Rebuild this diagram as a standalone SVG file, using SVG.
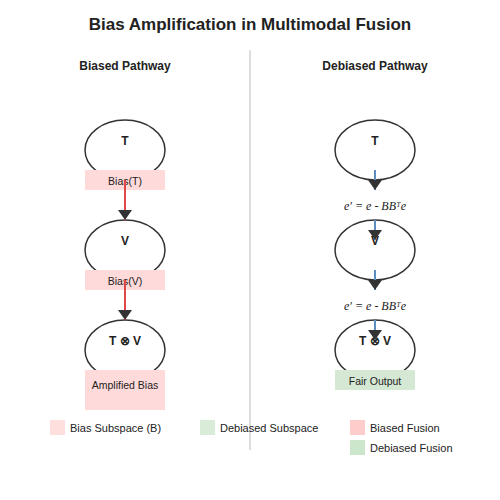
<svg xmlns="http://www.w3.org/2000/svg" width="500" height="500" viewBox="0 0 500 500">
<defs>
<style>
text{font-family:"Liberation Sans",Arial,sans-serif;fill:#222;}
.title{font-size:17px;font-weight:bold;text-anchor:middle;}
.sub{font-size:12px;font-weight:bold;text-anchor:middle;}
.node{fill:#fff;stroke:#333;stroke-width:1.5;}
.lbl{font-size:12px;font-weight:bold;text-anchor:middle;}
.small{font-size:10.5px;text-anchor:middle;}
.eq{font-family:"Liberation Serif","DejaVu Serif",serif;font-style:italic;font-size:12px;text-anchor:middle;}
.bias{fill:#ffdada;}
.fair{fill:#d5e8d4;}
.red{stroke:#e04848;stroke-width:2;fill:none;}
.blue{stroke:#5a8fc0;stroke-width:2;fill:none;}
.leg{font-size:11px;}
</style>
<marker id="ah" viewBox="0 0 10 10" refX="10" refY="5" markerWidth="5" markerHeight="7" orient="auto" markerUnits="strokeWidth" preserveAspectRatio="none">
<path d="M0,0 L10,5 L0,10 Z" fill="#333"/>
</marker>
</defs>
<rect width="500" height="500" fill="#fff"/>
<text class="title" x="250" y="30">Bias Amplification in Multimodal Fusion</text>
<line x1="250" y1="50" x2="250" y2="450" stroke="#ddd" stroke-width="2"/>
<text class="sub" x="125" y="70">Biased Pathway</text>
<text class="sub" x="375" y="70">Debiased Pathway</text>

<g id="biased-T">
<ellipse class="node" cx="125" cy="150" rx="40" ry="30"/>
<text class="lbl" x="125" y="145">T</text>
<rect class="bias" x="85" y="170" width="80" height="20"/>
<text class="small" x="125" y="185">Bias(T)</text>
</g>
<g id="biased-V">
<ellipse class="node" cx="125" cy="250" rx="40" ry="30"/>
<text class="lbl" x="125" y="245">V</text>
<rect class="bias" x="85" y="270" width="80" height="20"/>
<text class="small" x="125" y="285">Bias(V)</text>
</g>
<g id="biased-TV">
<ellipse class="node" cx="125" cy="350" rx="40" ry="30"/>
<text class="lbl" x="125" y="345">T ⊗ V</text>
<rect class="bias" x="85" y="370" width="80" height="40"/>
<text class="small" x="125" y="389">Amplified Bias</text>
</g>

<g id="debiased-T">
<ellipse class="node" cx="375" cy="150" rx="40" ry="30"/>
<text class="lbl" x="375" y="145">T</text>
</g>
<g id="debiased-V">
<ellipse class="node" cx="375" cy="250" rx="40" ry="30"/>
<text class="lbl" x="375" y="245">V</text>
</g>
<g id="debiased-TV">
<ellipse class="node" cx="375" cy="350" rx="40" ry="30"/>
<text class="lbl" x="375" y="345">T ⊗ V</text>
<rect class="fair" x="335" y="370" width="80" height="20"/>
<text class="small" x="375" y="385">Fair Output</text>
</g>

<g id="connectors">
<line class="red" x1="125" y1="180" x2="125" y2="220" marker-end="url(#ah)"/>
<line class="red" x1="125" y1="280" x2="125" y2="320" marker-end="url(#ah)"/>
<line class="blue" x1="375" y1="170" x2="375" y2="190" marker-end="url(#ah)"/>
<line class="blue" x1="375" y1="220" x2="375" y2="240" marker-end="url(#ah)"/>
<line class="blue" x1="375" y1="270" x2="375" y2="290" marker-end="url(#ah)"/>
<line class="blue" x1="375" y1="320" x2="375" y2="340" marker-end="url(#ah)"/>
</g>
<text class="eq" x="375" y="210">e′ = e - BBᵀe</text>
<text class="eq" x="375" y="310">e′ = e - BBᵀe</text>

<g id="legend">
<rect x="50" y="420" width="15" height="15" fill="#ffdede"/>
<text class="leg" x="70" y="432">Bias Subspace (B)</text>
<rect x="200" y="420" width="15" height="15" fill="#d9ecd8"/>
<text class="leg" x="220" y="432">Debiased Subspace</text>
<rect x="350" y="420" width="15" height="15" fill="#ffcccc"/>
<text class="leg" x="370" y="432">Biased Fusion</text>
<rect x="350" y="440" width="15" height="15" fill="#cce6cc"/>
<text class="leg" x="370" y="452">Debiased Fusion</text>
</g>
</svg>
